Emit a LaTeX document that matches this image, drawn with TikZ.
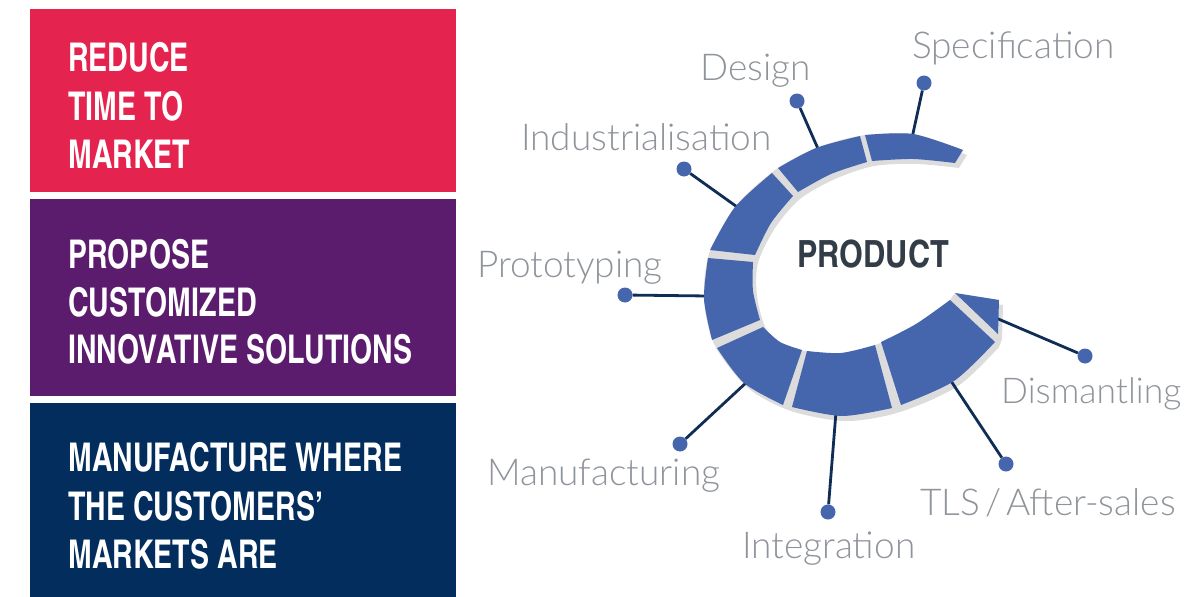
\documentclass[tikz,border=0pt]{standalone}
\usepackage{fontspec}
\newfontfamily\headfont{texgyreheroscn-bold.otf}[FakeStretch=0.88]
\newfontfamily\prodfont{texgyreheroscn-bold.otf}
\newfontfamily\labfont{Lato}[UprightFont=* Light, WordSpace=0.5]
\definecolor{redbox}{HTML}{E5234F}
\definecolor{purplebox}{HTML}{5C1C6E}
\definecolor{navybox}{HTML}{032D5C}
\definecolor{bandblue}{HTML}{4566AD}
\definecolor{shadowgray}{HTML}{DCDCDC}
\definecolor{conblue}{HTML}{0F2D55}
\definecolor{labgray}{HTML}{8F949B}
\definecolor{prodgray}{HTML}{333D47}
\begin{document}
\begin{tikzpicture}[x=1pt, y=-1pt,
  band/.style={fill=bandblue},
  bandshadow/.style={fill=shadowgray},
  con/.style={draw=conblue, line width=2.8pt},
  dotnode/.style={circle, fill=bandblue, inner sep=0pt, minimum size=15pt},
  lab/.style={text=labgray, font=\labfont\fontsize{37}{40}\selectfont, inner sep=0pt, anchor=base west},
  boxtext/.style={text=white, font=\headfont\fontsize{39.6}{48}\selectfont, inner sep=0pt, anchor=base west}]
\useasboundingbox (0,0) rectangle (1184,597);

% left boxes
\fill[redbox] (30,9) rectangle (456,192);
\fill[purplebox] (30,199) rectangle (456,396);
\fill[navybox] (30,403) rectangle (456,597);
\node[boxtext] (red1) at (68,71.5) {REDUCE};
\node[boxtext] (red2) at (68,120.5) {TIME TO};
\node[boxtext] (red3) at (68,168.5) {MARKET};
\node[boxtext] (purple1) at (68,268.5) {PROPOSE};
\node[boxtext] (purple2) at (68,316.5) {CUSTOMIZED};
\node[boxtext] (purple3) at (68,363.5) {INNOVATIVE SOLUTIONS};
\node[boxtext] (navy1) at (68,471.5) {MANUFACTURE WHERE};
\node[boxtext] (navy2) at (68,520.5) {THE CUSTOMERS’};
\node[boxtext] (navy3) at (68,568.5) {MARKETS ARE};

% shadow of the band
\foreach \s in {(0,0),(4,5)}
\fill[bandshadow, shift=\s] plot[smooth] coordinates {(963,150) (913,134) (862,135.5) (816,148) (775,170) (735,207) (709,254) (704,299) (714,344) (744,383) (787,406) (842,416) (896,407) (954,381) (995,342)}
  -- (998,334) -- (999,300) -- (955,293)
  -- plot[smooth] coordinates {(950,300) (916,324) (878,344) (841,353) (805,351) (780,342) (762,324) (753,291) (754,258) (771,223) (796,194) (831,174) (870,161) (913,159) (955,163)} -- cycle;

% connectors
\coordinate (specend) at (912,138);
\coordinate (designend) at (819,151);
\coordinate (indusend) at (740,209);
\coordinate (protoend) at (708,296);
\coordinate (manuend) at (748,381);
\coordinate (integend) at (836,412);
\coordinate (tlsend) at (951,381);
\coordinate (dismend) at (996,318);
\node[dotnode] (specdot) at (924,83) {};
\node[dotnode] (designdot) at (797,101) {};
\node[dotnode] (indusdot) at (684,169) {};
\node[dotnode] (protodot) at (625,295) {};
\node[dotnode] (manudot) at (680,444) {};
\node[dotnode] (integdot) at (828,512) {};
\node[dotnode] (tlsdot) at (1006,464) {};
\node[dotnode] (dismdot) at (1085,356) {};
\draw[con] (specdot) -- (specend);
\draw[con] (designdot) -- (designend);
\draw[con] (indusdot) -- (indusend);
\draw[con] (protodot) -- (protoend);
\draw[con] (manudot) -- (manuend);
\draw[con] (integdot) -- (integend);
\draw[con] (tlsdot) -- (tlsend);
\draw[con] (dismdot) -- (dismend);

% band segments
\fill[band] plot[smooth] coordinates {(963,150) (913,134) (865,135)} -- plot[smooth] coordinates {(872,161) (913,159) (955,163)} -- cycle;
\fill[band] plot[smooth] coordinates {(860,136) (816,148) (778,168)} -- plot[smooth] coordinates {(798,192) (831,174) (867,162)} -- cycle;
\fill[band] plot[smooth] coordinates {(772,173) (735,207) (710,250)} -- plot[smooth] coordinates {(755,255) (771,223) (793,196)} -- cycle;
\fill[band] plot[smooth] coordinates {(708,258) (704,299) (712,340)} -- plot[smooth] coordinates {(760,320) (753,291) (753,262)} -- cycle;
\fill[band] plot[smooth] coordinates {(717,348) (744,383) (783,405)} -- plot[smooth] coordinates {(802,350) (780,342) (763,327)} -- cycle;
\fill[band] plot[smooth] coordinates {(792,407) (842,416) (892,408)} -- plot[smooth] coordinates {(875,345) (841,353) (807,351)} -- cycle;
\fill[band] plot[smooth] coordinates {(901,405) (954,381) (995,342)} -- plot[smooth] coordinates {(950,300) (916,324) (881,342)} -- cycle;
\fill[band] (955,293) -- (999,300) -- (998,334) -- cycle;

\node[text=prodgray, font=\prodfont\fontsize{37.5}{40}\selectfont, inner sep=0pt, anchor=base west] (product) at (797,267) {PRODUCT};

% labels
\node[lab] (spec) at (912,58) {Specification};
\node[lab] (design) at (700,80) {Design};
\node[lab] (indus) at (521,150) {Industrialisation};
\node[lab] (proto) at (477,277) {Prototyping};
\node[lab, font=\labfont\fontsize{35.5}{40}\selectfont] (dism) at (1001,403) {Dismantling};
\node[lab] (manu) at (487,485) {Manufacturing};
\node[lab] (tls) at (920,515) {TLS / After-sales};
\node[lab] (integ) at (742,558) {Integration};
\end{tikzpicture}
\end{document}
